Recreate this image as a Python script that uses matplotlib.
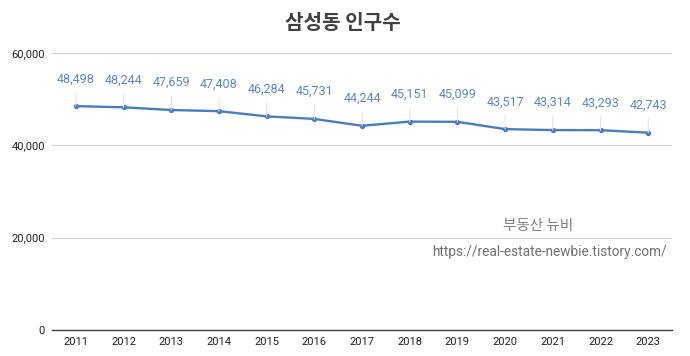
import matplotlib
matplotlib.use("Agg")
import matplotlib.pyplot as plt
from matplotlib.ticker import FuncFormatter

plt.rcParams["font.family"] = ["Noto Sans CJK KR", "DejaVu Sans"]

years = ["2011", "2012", "2013", "2014", "2015", "2016", "2017",
         "2018", "2019", "2020", "2021", "2022", "2023"]
population = [48498, 48244, 47659, 47408, 46284, 45731, 44244,
              45151, 45099, 43517, 43314, 43293, 42743]

line_color = "#4a7dbf"
label_color = "#5b87c6"

fig = plt.figure(figsize=(6.9, 3.56), dpi=100)
ax = fig.add_axes([0.0754, 0.073, 0.8986, 0.778])

x = list(range(len(years)))
ax.plot(x, population, color=line_color, linewidth=1.7,
        marker="o", markersize=2.8, zorder=3)

# etiquetas de datos con linea guia
for xi, v in zip(x, population):
    ax.annotate(f"{v:,}", xy=(xi, v), xytext=(0, 15), textcoords="offset points",
                ha="center", va="bottom", fontsize=9, color=label_color,
                family="Roboto")
    ax.annotate("", xy=(xi, v), xytext=(0, 10), textcoords="offset points",
                arrowprops=dict(arrowstyle="-", color="#e4e4e4", lw=0.8,
                                shrinkA=0, shrinkB=0))

ax.set_xlim(-0.5, len(years) - 0.5)
ax.set_ylim(0, 60000)
ax.set_yticks([0, 20000, 40000, 60000])
ax.yaxis.set_major_formatter(FuncFormatter(lambda v, p: f"{int(v):,}"))
ax.set_xticks(x)
ax.set_xticklabels(years)
ax.grid(axis="y", color="#d0d0d0", linewidth=0.8)
ax.set_axisbelow(True)

for s in ["top", "right", "left"]:
    ax.spines[s].set_visible(False)
ax.spines["bottom"].set_color("#404040")
ax.spines["bottom"].set_linewidth(1.0)
ax.tick_params(axis="both", length=0, labelsize=8, colors="#202020", pad=5)
for lbl in ax.get_xticklabels() + ax.get_yticklabels():
    lbl.set_family("Roboto")

fig.text(0.497, 0.938, "삼성동 인구수", ha="center", va="center",
         fontsize=14.5, fontweight="bold", color="#404040")

fig.text(0.78, 0.365, "부동산 뉴비", ha="center", va="center",
         fontsize=10.5, color="#808080")
fig.text(0.797, 0.292, "https://real-estate-newbie.tistory.com/", ha="center",
         va="center", fontsize=9.8, color="#707070", family="Roboto")

fig.savefig("out.png", dpi=100)
